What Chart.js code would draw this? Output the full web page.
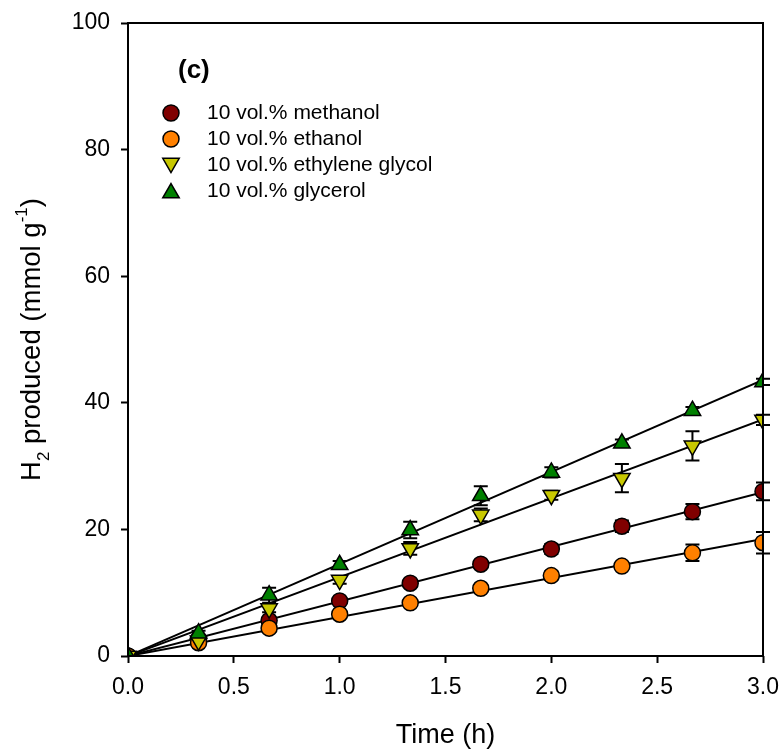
<!DOCTYPE html>
<html>
<head>
<meta charset="utf-8">
<script src="https://cdn.jsdelivr.net/npm/chart.js@4.4.1/dist/chart.umd.min.js"></script>
<style>
  body { margin: 0; background: #fff; }
  #wrap { width: 784px; height: 751px; }
</style>
</head>
<body>
<div id="wrap"><canvas id="chartH2"></canvas></div>
<script>
// Dati (c): H2 prodotto vs tempo
const times = [0, 1/3, 2/3, 1, 4/3, 5/3, 2, 7/3, 8/3, 3];
const xTicks = [0, 0.5, 1, 1.5, 2, 2.5, 3];
const yTicks = [0, 20, 40, 60, 80, 100];
const seriesNames = ['10 vol.% methanol', '10 vol.% ethanol', '10 vol.% ethylene glycol', '10 vol.% glycerol'];

const methanol    = [0, 2.7, 5.6, 8.7, 11.5, 14.5, 16.9, 20.5, 22.8, 26.0];
const methanolErr = [0, 0.3, 0.5, 0.5, 0.6, 0.6, 0.8, 0.9, 1.2, 1.4];
const ethanol     = [0, 2.1, 4.4, 6.6, 8.4, 10.7, 12.7, 14.2, 16.3, 17.9];
const ethanolErr  = [0, 0.2, 0.3, 0.4, 0.5, 0.5, 0.7, 0.6, 1.3, 1.7];
const ethGlycol    = [0, 2.4, 7.5, 12.0, 17.0, 22.3, 25.4, 28.1, 33.2, 37.3];
const ethGlycolErr = [0, 0.3, 0.6, 0.6, 1.0, 1.0, 0.7, 2.25, 2.3, 0.8];
const glycerol    = [0, 3.6, 9.6, 14.4, 19.9, 25.3, 29.0, 33.6, 38.75, 43.3];
const glycerolErr = [0, 0.4, 1.2, 0.6, 1.3, 1.5, 0.8, 0.6, 0.6, 0.5];

const FONT = 'Liberation Sans, Arial, sans-serif';
const R_CIRCLE = 8;
const R_TRI = 9.5;

const series = [
  { name: seriesNames[0], y: methanol,  err: methanolErr,  color: '#800000', style: 'circle',   rot: 0,   order: 3 },
  { name: seriesNames[1], y: ethanol,   err: ethanolErr,   color: '#ff8000', style: 'circle',   rot: 0,   order: 2 },
  { name: seriesNames[2], y: ethGlycol, err: ethGlycolErr, color: '#c8c800', style: 'triangle', rot: 180, order: 1 },
  { name: seriesNames[3], y: glycerol,  err: glycerolErr,  color: '#008000', style: 'triangle', rot: 0,   order: 0 }
];

function pts(ys) {
  return times.map((t, i) => ({ x: t, y: ys[i] }));
}

// retta di regressione passante per l'origine
function fitLine(ys) {
  let sxy = 0, sxx = 0;
  times.forEach((t, i) => { sxy += t * ys[i]; sxx += t * t; });
  const k = sxy / sxx;
  const xEnd = times[times.length - 1];
  return [{ x: 0, y: 0 }, { x: xEnd, y: k * xEnd }];
}

const datasets = [];
series.forEach(s => {
  datasets.push({
    label: s.name + ' fit',
    data: fitLine(s.y),
    showLine: true,
    borderColor: '#000',
    borderWidth: 2,
    pointRadius: 0,
    order: 10
  });
});
series.forEach(s => {
  datasets.push({
    label: s.name,
    data: pts(s.y),
    showLine: false,
    pointStyle: s.style,
    pointRotation: s.rot,
    pointRadius: s.style === 'circle' ? R_CIRCLE : R_TRI,
    pointBackgroundColor: s.color,
    pointBorderColor: '#000',
    pointBorderWidth: 1.5,
    order: s.order,
    errors: s.err
  });
});

// barre d'errore
const errorBars = {
  id: 'errorBars',
  beforeDatasetsDraw(chart) {
    const ctx = chart.ctx;
    const xs = chart.scales.x, ys = chart.scales.y;
    ctx.save();
    ctx.strokeStyle = '#000';
    ctx.lineWidth = 2;
    chart.data.datasets.forEach(ds => {
      if (!ds.errors) return;
      ds.data.forEach((p, i) => {
        const e = ds.errors[i];
        if (!e) return;
        const px = xs.getPixelForValue(p.x);
        const top = ys.getPixelForValue(p.y + e);
        const bot = ys.getPixelForValue(p.y - e);
        ctx.beginPath();
        ctx.moveTo(px, top); ctx.lineTo(px, bot);
        ctx.moveTo(px - 7, top); ctx.lineTo(px + 7, top);
        ctx.moveTo(px - 7, bot); ctx.lineTo(px + 7, bot);
        ctx.stroke();
      });
    });
    ctx.restore();
  }
};

// cornice, titoli degli assi, etichetta (c) e legenda
const decorations = {
  id: 'decorations',
  afterDraw(chart) {
    const ctx = chart.ctx;
    const a = chart.chartArea;
    ctx.save();
    ctx.strokeStyle = '#000';
    ctx.lineWidth = 2;
    ctx.strokeRect(a.left, a.top, a.right - a.left, a.bottom - a.top);

    ctx.fillStyle = '#000';
    ctx.textBaseline = 'alphabetic';

    // titolo asse x
    ctx.font = '27px ' + FONT;
    ctx.textAlign = 'center';
    ctx.fillText('Time (h)', (a.left + a.right) / 2, 743);

    // titolo asse y con pedice e apice
    const parts = [
      { t: 'H', size: 27.5, dy: 0 },
      { t: '2', size: 17, dy: 9 },
      { t: ' produced (mmol g', size: 27.5, dy: 0 },
      { t: '-1', size: 17, dy: -13 },
      { t: ')', size: 27.5, dy: 0 }
    ];
    ctx.textAlign = 'left';
    let total = 0;
    parts.forEach(p => { ctx.font = p.size + 'px ' + FONT; p.w = ctx.measureText(p.t).width; total += p.w; });
    ctx.translate(40, (a.top + a.bottom) / 2);
    ctx.rotate(-Math.PI / 2);
    let cx = -total / 2;
    parts.forEach(p => {
      ctx.font = p.size + 'px ' + FONT;
      ctx.fillText(p.t, cx, p.dy);
      cx += p.w;
    });
    ctx.setTransform(1, 0, 0, 1, 0, 0);

    // etichetta del pannello
    ctx.font = 'bold 26px ' + FONT;
    ctx.textBaseline = 'middle';
    ctx.fillText('(c)', 178, 71);

    // legenda
    const rows = [113, 139, 165, 191];
    series.forEach((s, i) => {
      ctx.fillStyle = s.color;
      ctx.strokeStyle = '#000';
      ctx.lineWidth = 1.5;
      Chart.helpers.drawPoint(ctx, {
        pointStyle: s.style,
        rotation: s.rot,
        radius: s.style === 'circle' ? R_CIRCLE : R_TRI,
        borderWidth: 1.5
      }, 171, rows[i] + (s.style === 'triangle' ? (s.rot ? -2 : 2) : 0));
      ctx.fillStyle = '#000';
      ctx.font = '21px ' + FONT;
      ctx.fillText(s.name, 207, rows[i]);
    });
    ctx.restore();
  }
};

const chartH2 = new Chart(document.getElementById('chartH2').getContext('2d'), {
  type: 'scatter',
  data: { datasets: datasets },
  options: {
    responsive: true,
    maintainAspectRatio: false,
    animation: false,
    layout: { padding: { left: 0, top: 23, right: 21, bottom: 0 } },
    plugins: {
      legend: { display: false },
      tooltip: { enabled: false }
    },
    scales: {
      x: {
        type: 'linear',
        min: 0,
        max: 3,
        afterBuildTicks: scale => { scale.ticks = xTicks.map(v => ({ value: v })); },
        afterFit: scale => { scale.height = 95; scale.paddingLeft = 0; scale.paddingRight = 0; },
        ticks: {
          callback: v => v.toFixed(1),
          color: '#000',
          font: { family: FONT, size: 23 },
          padding: 11,
          maxRotation: 0
        },
        grid: { drawOnChartArea: false, color: '#000', tickLength: 7, tickWidth: 2 },
        border: { display: false }
      },
      y: {
        min: 0,
        max: 100,
        afterBuildTicks: scale => { scale.ticks = yTicks.map(v => ({ value: v })); },
        afterFit: scale => { scale.width = 128; scale.paddingTop = 0; scale.paddingBottom = 0; },
        ticks: {
          color: '#000',
          font: { family: FONT, size: 23 },
          padding: 11
        },
        grid: { drawOnChartArea: false, color: '#000', tickLength: 7, tickWidth: 2 },
        border: { display: false }
      }
    }
  },
  plugins: [errorBars, decorations]
});
</script>
</body>
</html>
